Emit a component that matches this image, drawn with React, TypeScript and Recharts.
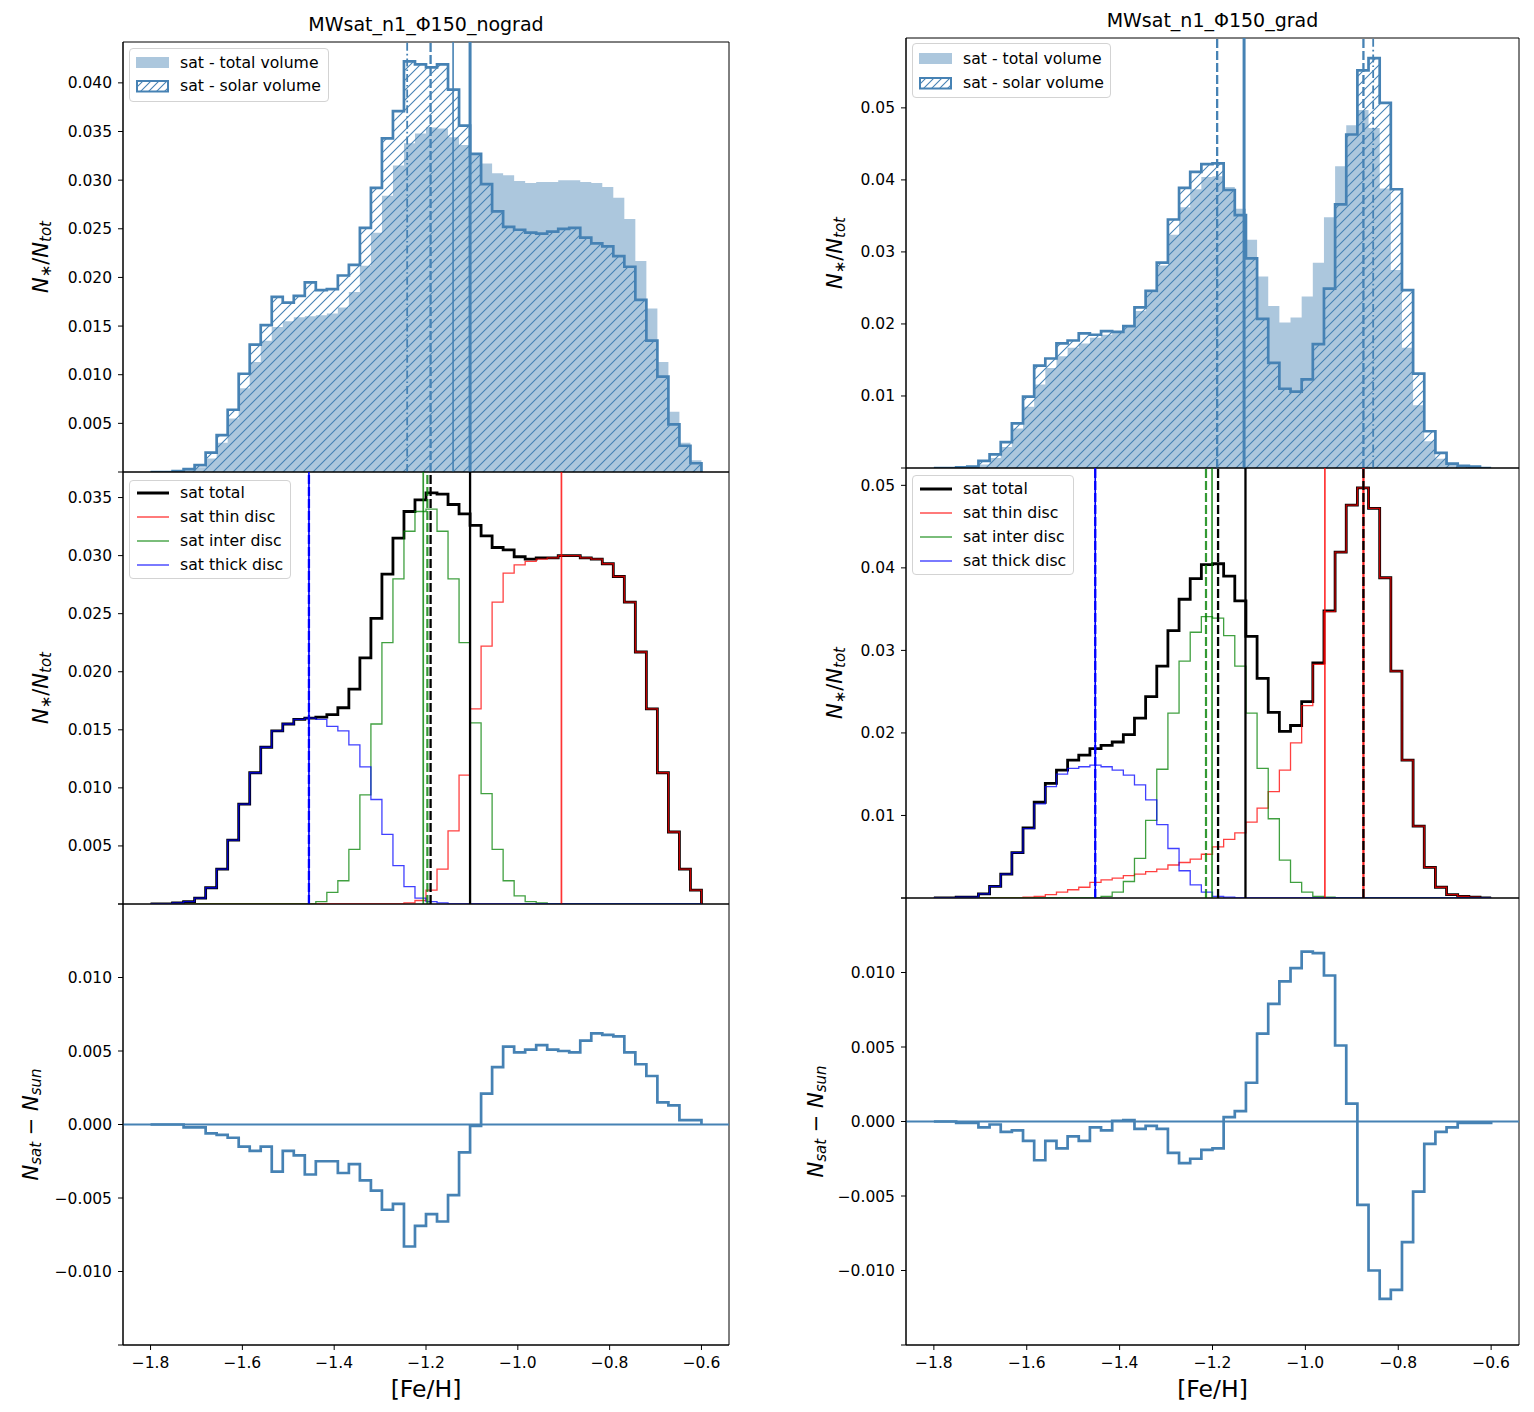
import React from 'react';
import { ComposedChart, Line, Area, XAxis, YAxis, ReferenceLine, ReferenceArea, Legend } from 'recharts';

// ---------------- data ----------------
const BIN_START = -1.8;
const BIN_WIDTH = 0.024;
const N_BINS = 50;
const X_DOMAIN: [number, number] = [-1.86, -0.54];
const X_TICKS = [-1.8, -1.6, -1.4, -1.2, -1.0, -0.8, -0.6];

const TITLES = ['MWsat_n1_\u03a6150_nograd', 'MWsat_n1_\u03a6150_grad'];
const LEGEND_TOP = ['sat - total volume', 'sat - solar volume'];
const LEGEND_MID = ['sat total', 'sat thin disc', 'sat inter disc', 'sat thick disc'];

// left column (nograd)
const L_TOTAL = [
  0, 0, 0.0001, 0.0002, 0.0005, 0.0014, 0.0030, 0.0055, 0.0086, 0.0113,
  0.0135, 0.0149, 0.0155, 0.0159, 0.0160, 0.0161, 0.0163, 0.0169, 0.0185, 0.0212,
  0.0246, 0.0284, 0.0315, 0.0338, 0.0348, 0.0354, 0.0353, 0.0344, 0.0336, 0.0326,
  0.0317, 0.0307, 0.0305, 0.0299, 0.0297, 0.0298, 0.0298, 0.0300, 0.0300, 0.0298,
  0.0297, 0.0293, 0.0282, 0.0260, 0.0217, 0.0168, 0.0113, 0.0062, 0.0030, 0.0012,
];
const L_SOLAR = [
  0, 0, 0.0001, 0.0003, 0.0007, 0.0020, 0.0038, 0.0064, 0.0101, 0.0131,
  0.0151, 0.0180, 0.0174, 0.0181, 0.0195, 0.0187, 0.0188, 0.0202, 0.0213, 0.0251,
  0.0292, 0.0343, 0.0371, 0.0422, 0.0419, 0.0416, 0.0419, 0.0393, 0.0356, 0.0327,
  0.0296, 0.0268, 0.0252, 0.0249, 0.0246, 0.0245, 0.0247, 0.0250, 0.0251, 0.0241,
  0.0235, 0.0232, 0.0222, 0.0211, 0.0177, 0.0135, 0.0098, 0.0049, 0.0027, 0.0009,
];
const L_THIN = [
  0, 0, 0, 0, 0, 0, 0, 0, 0, 0,
  0, 0, 0, 0, 0, 0, 0, 0, 0, 0,
  0, 0, 0, 0.0001, 0.0003, 0.0012, 0.0030, 0.0063, 0.0111, 0.0168,
  0.0222, 0.0260, 0.0285, 0.0292, 0.0295, 0.0297, 0.0298, 0.0300, 0.0300, 0.0298,
  0.0297, 0.0293, 0.0282, 0.0260, 0.0217, 0.0168, 0.0113, 0.0062, 0.0030, 0.0012,
];
const L_INTER = [
  0, 0, 0, 0, 0, 0, 0, 0, 0, 0,
  0, 0, 0, 0, 0, 0.0002, 0.0010, 0.0020, 0.0047, 0.0094,
  0.0155, 0.0225, 0.0280, 0.0321, 0.0338, 0.0340, 0.0321, 0.0280, 0.0225, 0.0156,
  0.0095, 0.0047, 0.0020, 0.0007, 0.0002, 0.0001, 0, 0, 0, 0,
  0, 0, 0, 0, 0, 0, 0, 0, 0, 0,
];
const L_THICK = [
  0, 0, 0.0001, 0.0002, 0.0005, 0.0014, 0.0030, 0.0055, 0.0086, 0.0113,
  0.0135, 0.0149, 0.0155, 0.0159, 0.0160, 0.0159, 0.0153, 0.0149, 0.0137, 0.0118,
  0.0090, 0.0060, 0.0033, 0.0015, 0.0005, 0.0002, 0.0001, 0, 0, 0,
  0, 0, 0, 0, 0, 0, 0, 0, 0, 0,
  0, 0, 0, 0, 0, 0, 0, 0, 0, 0,
];
const L_DIFF = [
  0, 0, 0, -0.0002, -0.0002, -0.0006, -0.0007, -0.0009, -0.0015, -0.0018,
  -0.0015, -0.0032, -0.0018, -0.0021, -0.0034, -0.0025, -0.0025, -0.0033, -0.0027, -0.0038,
  -0.0045, -0.0058, -0.0054, -0.0083, -0.0069, -0.0061, -0.0066, -0.0048, -0.0019, -0.0001,
  0.0021, 0.0039, 0.0053, 0.0049, 0.0051, 0.0054, 0.0051, 0.0050, 0.0049, 0.0057,
  0.0062, 0.0061, 0.0060, 0.0049, 0.0041, 0.0033, 0.0015, 0.0013, 0.0003, 0.0003,
];

// right column (grad)
const R_TOTAL = [
  0, 0, 0.0001, 0.0001, 0.0005, 0.0014, 0.0029, 0.0055, 0.0085, 0.0116,
  0.0139, 0.0155, 0.0167, 0.0173, 0.0181, 0.0185, 0.0189, 0.0198, 0.0218, 0.0244,
  0.0281, 0.0324, 0.0362, 0.0387, 0.0404, 0.0405, 0.0390, 0.0360, 0.0317, 0.0266,
  0.0225, 0.0202, 0.0209, 0.0238, 0.0285, 0.0348, 0.0419, 0.0476, 0.0497, 0.0472,
  0.0388, 0.0275, 0.0167, 0.0087, 0.0037, 0.0013, 0.0004, 0.0002, 0.0001, 0,
];
const R_SOLAR = [
  0, 0, 0.0001, 0.0002, 0.0010, 0.0019, 0.0036, 0.0062, 0.0099, 0.0142,
  0.0152, 0.0173, 0.0177, 0.0187, 0.0185, 0.0190, 0.0189, 0.0197, 0.0223, 0.0246,
  0.0285, 0.0345, 0.0389, 0.0411, 0.0422, 0.0423, 0.0386, 0.0351, 0.0291, 0.0207,
  0.0146, 0.0110, 0.0106, 0.0123, 0.0172, 0.0249, 0.0366, 0.0463, 0.0552, 0.0569,
  0.0507, 0.0387, 0.0247, 0.0131, 0.0051, 0.0021, 0.0006, 0.0003, 0.0002, 0,
];
const R_THIN = [
  0, 0, 0, 0, 0, 0, 0, 0, 0.0001, 0.0002,
  0.0004, 0.0007, 0.0010, 0.0013, 0.0019, 0.0022, 0.0024, 0.0027, 0.0029, 0.0032,
  0.0035, 0.0040, 0.0043, 0.0047, 0.0053, 0.0062, 0.0071, 0.0079, 0.0092, 0.0109,
  0.0129, 0.0155, 0.0188, 0.0233, 0.0283, 0.0347, 0.0419, 0.0476, 0.0497, 0.0472,
  0.0388, 0.0275, 0.0167, 0.0087, 0.0037, 0.0013, 0.0004, 0.0002, 0.0001, 0,
];
const R_INTER = [
  0, 0, 0, 0, 0, 0, 0, 0, 0, 0,
  0, 0, 0, 0, 0, 0.0002, 0.0007, 0.0020, 0.0048, 0.0094,
  0.0156, 0.0224, 0.0287, 0.0322, 0.0341, 0.0339, 0.0318, 0.0281, 0.0224, 0.0157,
  0.0096, 0.0046, 0.0019, 0.0007, 0.0002, 0.0001, 0, 0, 0, 0,
  0, 0, 0, 0, 0, 0, 0, 0, 0, 0,
];
const R_THICK = [
  0, 0, 0.0001, 0.0001, 0.0005, 0.0014, 0.0029, 0.0055, 0.0084, 0.0114,
  0.0135, 0.0150, 0.0157, 0.0159, 0.0161, 0.0159, 0.0155, 0.0149, 0.0137, 0.0119,
  0.0089, 0.0060, 0.0033, 0.0016, 0.0007, 0.0002, 0.0001, 0, 0, 0,
  0, 0, 0, 0, 0, 0, 0, 0, 0, 0,
  0, 0, 0, 0, 0, 0, 0, 0, 0, 0,
];
const R_DIFF = [
  0, 0, -0.0001, -0.0001, -0.0004, -0.0002, -0.0007, -0.0006, -0.0013, -0.0026,
  -0.0013, -0.0018, -0.0010, -0.0013, -0.0004, -0.0006, 0.00005, 0.0001, -0.0005, -0.0003,
  -0.0005, -0.0021, -0.0028, -0.0025, -0.0019, -0.0018, 0.0003, 0.0007, 0.0026, 0.0059,
  0.0079, 0.0094, 0.0103, 0.0114, 0.0113, 0.0098, 0.0051, 0.0012, -0.0056, -0.0100,
  -0.0119, -0.0113, -0.0081, -0.0047, -0.0015, -0.0007, -0.0004, -0.0001, -0.0001, -0.0001,
];

// vertical marker positions ([Fe/H])
const L_TOP_MARKS = { solarMedian: -1.241, totalMedian: -1.19, solarMean: -1.141, totalMean: -1.104 };
const R_TOP_MARKS = { median1: -1.19, mean: -1.132, median2: -0.875, solarMedian: -0.854 };
const L_MID_MARKS = { thick: -1.455, interMean: -1.206, interMedian: -1.197, totalMedian: -1.19, totalMean: -1.104, thin: -0.905 };
const R_MID_MARKS = { thick: -1.4525, interMedian: -1.214, interMean: -1.201, totalMedian: -1.188, totalMean: -1.129, thinMean: -0.958, thinMedian: -0.875 };

// y axes
const Y_TOP_L: [number, number] = [0, 0.0442];
const Y_MID_L: [number, number] = [0, 0.0372];
const Y_TOP_R: [number, number] = [0, 0.0597];
const Y_MID_R: [number, number] = [0, 0.0521];
const Y_BOT: [number, number] = [-0.015, 0.015];
const TICKS_TOP_L = [0, 0.005, 0.01, 0.015, 0.02, 0.025, 0.03, 0.035, 0.04];
const TICKS_MID_L = [0, 0.005, 0.01, 0.015, 0.02, 0.025, 0.03, 0.035];
const TICKS_R = [0, 0.01, 0.02, 0.03, 0.04, 0.05];
const TICKS_BOT = [-0.015, -0.01, -0.005, 0, 0.005, 0.01, 0.015];

// ---------------- styling / layout ----------------
const FONT = '"DejaVu Sans", "Liberation Sans", sans-serif';
const STEEL = '#4682b4';
const RED = '#ff0000';
const GREEN = '#008000';
const BLUE = '#0000ff';
const YW = 110;
const MT = 10;
const MR = 10;
const TICK_FONT = 15.5;

type Side = { plotLeft: number; plotW: number; rows: { top: number; h: number }[]; ylabX: number[] };
const SIDE_L: Side = { plotLeft: 123, plotW: 606, rows: [{ top: 42, h: 430 }, { top: 472, h: 432 }, { top: 904, h: 441 }], ylabX: [41, 41, 31] };
const SIDE_R: Side = { plotLeft: 906, plotW: 613, rows: [{ top: 38, h: 430 }, { top: 468, h: 430 }, { top: 898, h: 447 }], ylabX: [835, 835, 816] };

type Row = { x: number; [k: string]: number };
function buildSteps(series: Record<string, number[]>): Row[] {
  const keys = Object.keys(series);
  const edges = Array.from({ length: N_BINS + 1 }, (_, i) => BIN_START + BIN_WIDTH * i);
  const mk = (x: number, pick: (k: string) => number): Row => {
    const r: Row = { x };
    keys.forEach((k) => { r[k] = pick(k); });
    return r;
  };
  const rows: Row[] = [mk(edges[0], () => 0)];
  for (let i = 0; i < N_BINS; i++) rows.push(mk(edges[i], (k) => series[k][i]));
  rows.push(mk(edges[N_BINS], (k) => series[k][N_BINS - 1]));
  rows.push(mk(edges[N_BINS], () => 0));
  return rows;
}

const minus = (s: string) => s.replace('-', '\u2212');
const fmtTop3 = (v: number) => (Math.abs(v) < 1e-9 ? '' : v.toFixed(3));
const fmtTop2 = (v: number) => (Math.abs(v) < 1e-9 ? '' : v.toFixed(2));
const fmtBot = (v: number) => (Math.abs(v) > 0.0125 ? '' : minus(v.toFixed(3)));
const fmtX = (v: number) => minus(v.toFixed(1));

function YLabelNstar({ x, y }: { x: number; y: number }) {
  return (
    <text x={x} y={y} transform={`rotate(-90, ${x}, ${y})`} textAnchor="middle" dominantBaseline="central" fontFamily={FONT} fontSize={21} fill="#000">
      <tspan fontStyle="italic">N</tspan>
      <tspan fontSize={15} dy={5}>{'\u2217'}</tspan>
      <tspan dy={-5}>/</tspan>
      <tspan fontStyle="italic">N</tspan>
      <tspan fontStyle="italic" fontSize={15} dy={5}>tot</tspan>
    </text>
  );
}
function YLabelDiff({ x, y }: { x: number; y: number }) {
  return (
    <text x={x} y={y} transform={`rotate(-90, ${x}, ${y})`} textAnchor="middle" dominantBaseline="central" fontFamily={FONT} fontSize={21} fill="#000" style={{ whiteSpace: 'pre' }}>
      <tspan fontStyle="italic">N</tspan>
      <tspan fontStyle="italic" fontSize={15} dy={5}>sat</tspan>
      <tspan dy={-5}>{' \u2212 '}</tspan>
      <tspan fontStyle="italic">N</tspan>
      <tspan fontStyle="italic" fontSize={15} dy={5}>sun</tspan>
    </text>
  );
}

const legendBox = (w: number, h: number): React.CSSProperties => ({
  position: 'relative', width: w, height: h, boxSizing: 'border-box', border: '1px solid #d3d3d3',
  borderRadius: 4, background: 'rgba(255,255,255,0.8)', fontFamily: FONT, fontSize: 15.7, color: '#000',
});
const legendText = (cy: number): React.CSSProperties => ({ position: 'absolute', left: 50, top: cy - 10, lineHeight: '20px', whiteSpace: 'nowrap' });

function TopLegend({ pid, w, h, rows }: { pid: string; w: number; h: number; rows: number[] }) {
  return (
    <div style={legendBox(w, h)}>
      <svg style={{ position: 'absolute', left: 6, top: rows[0] - 6 }} width={34} height={12}>
        <rect x={0} y={0} width={33} height={11} fill={STEEL} fillOpacity={0.45} />
      </svg>
      <span style={legendText(rows[0])}>{LEGEND_TOP[0]}</span>
      <svg style={{ position: 'absolute', left: 6, top: rows[1] - 6 }} width={34} height={13}>
        <defs>
          <pattern id={pid} patternUnits="userSpaceOnUse" width={8} height={8}>
            <path d="M-1,1 L1,-1 M0,8 L8,0 M7,9 L9,7" stroke={STEEL} strokeWidth={1.1} />
          </pattern>
        </defs>
        <rect x={1} y={1} width={31} height={10.5} fill={`url(#${pid})`} stroke={STEEL} strokeWidth={2} />
      </svg>
      <span style={legendText(rows[1])}>{LEGEND_TOP[1]}</span>
    </div>
  );
}

const MID_STYLES = [
  { color: '#000', width: 3, op: 1 },
  { color: RED, width: 1.4, op: 0.75 },
  { color: GREEN, width: 1.4, op: 0.75 },
  { color: BLUE, width: 1.4, op: 0.75 },
];
function MidLegend({ w, h, rows }: { w: number; h: number; rows: number[] }) {
  return (
    <div style={legendBox(w, h)}>
      {LEGEND_MID.map((label, i) => (
        <React.Fragment key={label}>
          <svg style={{ position: 'absolute', left: 6, top: rows[i] - 5 }} width={34} height={10}>
            <line x1={1} y1={5} x2={33} y2={5} stroke={MID_STYLES[i].color} strokeOpacity={MID_STYLES[i].op} strokeWidth={MID_STYLES[i].width} />
          </svg>
          <span style={legendText(rows[i])}>{label}</span>
        </React.Fragment>
      ))}
    </div>
  );
}

type PanelProps = {
  side: Side; row: number; data: Row[]; yDomain: [number, number]; yTicks: number[];
  yFmt: (v: number) => string; children: React.ReactNode; ylabel: 'nstar' | 'diff';
};
function Panel({ side, row, data, yDomain, yTicks, yFmt, children, ylabel }: PanelProps) {
  const { plotLeft, plotW } = side;
  const { top, h } = side.rows[row];
  const bottom = row === 2;
  const width = YW + plotW + MR;
  const height = MT + h + (bottom ? 60 : 10);
  const chartLeft = plotLeft - YW;
  const labX = side.ylabX[row] - chartLeft;
  const labY = MT + h / 2;
  return (
    <div style={{ position: 'absolute', left: chartLeft, top: top - MT, width, height }}>
      <ComposedChart width={width} height={height} data={data} margin={{ top: MT, right: MR, bottom: bottom ? 5 : 10, left: 0 }}>
        <XAxis
          dataKey="x" type="number" domain={X_DOMAIN} ticks={X_TICKS} allowDataOverflow hide={!bottom}
          height={55} interval={0} tickSize={5} tickMargin={7} tickFormatter={fmtX}
          tick={{ fill: '#000', fontSize: TICK_FONT, fontFamily: FONT }} tickLine={{ stroke: '#000' }} axisLine={{ stroke: '#000' }}
        />
        <YAxis
          type="number" domain={yDomain} ticks={yTicks} allowDataOverflow width={YW} interval={0}
          tickSize={5} tickMargin={6} tickFormatter={yFmt}
          tick={{ fill: '#000', fontSize: TICK_FONT, fontFamily: FONT }} tickLine={{ stroke: '#000' }} axisLine={{ stroke: '#000' }}
        />
        {children}
        <ReferenceArea x1={X_DOMAIN[0]} x2={X_DOMAIN[1]} y1={yDomain[0]} y2={yDomain[1]} fill="none" stroke="#000" strokeWidth={1} ifOverflow="visible" />
        {ylabel === 'nstar' ? <YLabelNstar x={labX} y={labY} /> : <YLabelDiff x={labX} y={labY} />}
        {bottom ? (
          <text x={YW + plotW / 2} y={MT + h + 52} textAnchor="middle" fontFamily={FONT} fontSize={23.5} fill="#000">[Fe/H]</text>
        ) : null}
      </ComposedChart>
    </div>
  );
}

function HatchDefs({ id }: { id: string }) {
  return (
    <defs>
      <pattern id={id} patternUnits="userSpaceOnUse" width={10} height={10}>
        <path d="M-1,1 L1,-1 M0,10 L10,0 M9,11 L11,9" stroke={STEEL} strokeWidth={1.1} />
      </pattern>
    </defs>
  );
}

const DASH = '9 3';
const DASHDOT = '8 3 1.6 3';

const dataTopL = buildSteps({ total: L_TOTAL, solar: L_SOLAR });
const dataMidL = buildSteps({ total: L_TOTAL, thin: L_THIN, inter: L_INTER, thick: L_THICK });
const dataBotL = buildSteps({ diff: L_DIFF });
const dataTopR = buildSteps({ total: R_TOTAL, solar: R_SOLAR });
const dataMidR = buildSteps({ total: R_TOTAL, thin: R_THIN, inter: R_INTER, thick: R_THICK });
const dataBotR = buildSteps({ diff: R_DIFF });

function Title({ text, cx, cy }: { text: string; cx: number; cy: number }) {
  return (
    <div style={{ position: 'absolute', left: cx - 250, width: 500, top: cy - 11, lineHeight: '22px', fontSize: 19, textAlign: 'center', fontFamily: FONT, color: '#000' }}>
      {text}
    </div>
  );
}

function MidSeries() {
  return (
    <>
      <Line dataKey="total" type="stepAfter" stroke="#000" strokeWidth={2.8} dot={false} activeDot={false} isAnimationActive={false} />
      <Line dataKey="thin" type="stepAfter" stroke={RED} strokeOpacity={0.75} strokeWidth={1.3} dot={false} activeDot={false} isAnimationActive={false} />
      <Line dataKey="inter" type="stepAfter" stroke={GREEN} strokeOpacity={0.75} strokeWidth={1.3} dot={false} activeDot={false} isAnimationActive={false} />
      <Line dataKey="thick" type="stepAfter" stroke={BLUE} strokeOpacity={0.75} strokeWidth={1.3} dot={false} activeDot={false} isAnimationActive={false} />
    </>
  );
}

export default function App() {
  return (
    <div style={{ position: 'absolute', left: 0, top: 0, width: 1534, height: 1412, background: '#fff', fontFamily: FONT }}>
      <Title text={TITLES[0]} cx={426} cy={24} />
      <Title text={TITLES[1]} cx={1212.5} cy={20} />

      {/* ---------- left column ---------- */}
      <Panel side={SIDE_L} row={0} data={dataTopL} yDomain={Y_TOP_L} yTicks={TICKS_TOP_L} yFmt={fmtTop3} ylabel="nstar">
        <HatchDefs id="hatchTopL" />
        <Area dataKey="total" type="stepAfter" stroke="none" fill={STEEL} fillOpacity={0.45} dot={false} activeDot={false} isAnimationActive={false} />
        <Area dataKey="solar" type="stepAfter" stroke={STEEL} strokeWidth={2.7} fill="url(#hatchTopL)" fillOpacity={1} dot={false} activeDot={false} isAnimationActive={false} />
        <ReferenceLine x={L_TOP_MARKS.solarMedian} stroke={STEEL} strokeWidth={1.8} strokeDasharray={DASHDOT} />
        <ReferenceLine x={L_TOP_MARKS.totalMedian} stroke={STEEL} strokeWidth={2.3} strokeDasharray={DASH} />
        <ReferenceLine x={L_TOP_MARKS.solarMean} stroke={STEEL} strokeWidth={1.6} />
        <ReferenceLine x={L_TOP_MARKS.totalMean} stroke={STEEL} strokeWidth={3} />
        <Legend layout="vertical" align="center" verticalAlign="middle" wrapperStyle={{ left: 116, top: 16, width: 200 }}
          content={() => <TopLegend pid="hatchLegL" w={200} h={54} rows={[14, 37]} />} />
      </Panel>

      <Panel side={SIDE_L} row={1} data={dataMidL} yDomain={Y_MID_L} yTicks={TICKS_MID_L} yFmt={fmtTop3} ylabel="nstar">
        <MidSeries />
        <ReferenceLine x={L_MID_MARKS.thick} stroke={BLUE} strokeWidth={1.6} />
        <ReferenceLine x={L_MID_MARKS.thick} stroke={BLUE} strokeWidth={2.3} strokeDasharray={DASH} />
        <ReferenceLine x={L_MID_MARKS.interMean} stroke={GREEN} strokeOpacity={0.8} strokeWidth={1.7} />
        <ReferenceLine x={L_MID_MARKS.interMedian} stroke={GREEN} strokeOpacity={0.8} strokeWidth={2.2} strokeDasharray={DASH} />
        <ReferenceLine x={L_MID_MARKS.totalMedian} stroke="#000" strokeWidth={2.3} strokeDasharray={DASH} />
        <ReferenceLine x={L_MID_MARKS.totalMean} stroke="#000" strokeWidth={2.3} />
        <ReferenceLine x={L_MID_MARKS.thin} stroke={RED} strokeOpacity={0.8} strokeWidth={1.7} />
        <Legend layout="vertical" align="center" verticalAlign="middle" wrapperStyle={{ left: 116, top: 18, width: 162 }}
          content={() => <MidLegend w={162} h={99} rows={[12, 36, 60, 84]} />} />
      </Panel>

      <Panel side={SIDE_L} row={2} data={dataBotL} yDomain={Y_BOT} yTicks={TICKS_BOT} yFmt={fmtBot} ylabel="diff">
        <ReferenceLine y={0} stroke={STEEL} strokeWidth={2} />
        <Line dataKey="diff" type="stepAfter" stroke={STEEL} strokeWidth={2.7} dot={false} activeDot={false} isAnimationActive={false} />
      </Panel>

      {/* ---------- right column ---------- */}
      <Panel side={SIDE_R} row={0} data={dataTopR} yDomain={Y_TOP_R} yTicks={TICKS_R} yFmt={fmtTop2} ylabel="nstar">
        <HatchDefs id="hatchTopR" />
        <Area dataKey="total" type="stepAfter" stroke="none" fill={STEEL} fillOpacity={0.45} dot={false} activeDot={false} isAnimationActive={false} />
        <Area dataKey="solar" type="stepAfter" stroke={STEEL} strokeWidth={2.7} fill="url(#hatchTopR)" fillOpacity={1} dot={false} activeDot={false} isAnimationActive={false} />
        <ReferenceLine x={R_TOP_MARKS.median1} stroke={STEEL} strokeWidth={2.3} strokeDasharray={DASH} />
        <ReferenceLine x={R_TOP_MARKS.mean} stroke={STEEL} strokeWidth={3} />
        <ReferenceLine x={R_TOP_MARKS.median2} stroke={STEEL} strokeWidth={2.3} strokeDasharray={DASH} />
        <ReferenceLine x={R_TOP_MARKS.solarMedian} stroke={STEEL} strokeWidth={1.8} strokeDasharray={DASHDOT} />
        <Legend layout="vertical" align="center" verticalAlign="middle" wrapperStyle={{ left: 116, top: 15, width: 199 }}
          content={() => <TopLegend pid="hatchLegR" w={199} h={55} rows={[15, 39]} />} />
      </Panel>

      <Panel side={SIDE_R} row={1} data={dataMidR} yDomain={Y_MID_R} yTicks={TICKS_R} yFmt={fmtTop2} ylabel="nstar">
        <MidSeries />
        <ReferenceLine x={R_MID_MARKS.thick} stroke={BLUE} strokeWidth={1.6} />
        <ReferenceLine x={R_MID_MARKS.thick} stroke={BLUE} strokeWidth={2.3} strokeDasharray={DASH} />
        <ReferenceLine x={R_MID_MARKS.interMedian} stroke={GREEN} strokeOpacity={0.8} strokeWidth={2.2} strokeDasharray={DASH} />
        <ReferenceLine x={R_MID_MARKS.interMean} stroke={GREEN} strokeOpacity={0.8} strokeWidth={1.7} />
        <ReferenceLine x={R_MID_MARKS.totalMedian} stroke="#000" strokeWidth={2.3} strokeDasharray={DASH} />
        <ReferenceLine x={R_MID_MARKS.totalMean} stroke="#000" strokeWidth={2.3} />
        <ReferenceLine x={R_MID_MARKS.thinMean} stroke={RED} strokeOpacity={0.8} strokeWidth={1.7} />
        <ReferenceLine x={R_MID_MARKS.thinMedian} stroke={RED} strokeOpacity={0.85} strokeWidth={2.3} />
        <ReferenceLine x={R_MID_MARKS.thinMedian} stroke="#000" strokeWidth={2.3} strokeDasharray={DASH} />
        <Legend layout="vertical" align="center" verticalAlign="middle" wrapperStyle={{ left: 116, top: 17, width: 162 }}
          content={() => <MidLegend w={162} h={100} rows={[13, 37, 61, 85]} />} />
      </Panel>

      <Panel side={SIDE_R} row={2} data={dataBotR} yDomain={Y_BOT} yTicks={TICKS_BOT} yFmt={fmtBot} ylabel="diff">
        <ReferenceLine y={0} stroke={STEEL} strokeWidth={2} />
        <Line dataKey="diff" type="stepAfter" stroke={STEEL} strokeWidth={2.7} dot={false} activeDot={false} isAnimationActive={false} />
      </Panel>
    </div>
  );
}
